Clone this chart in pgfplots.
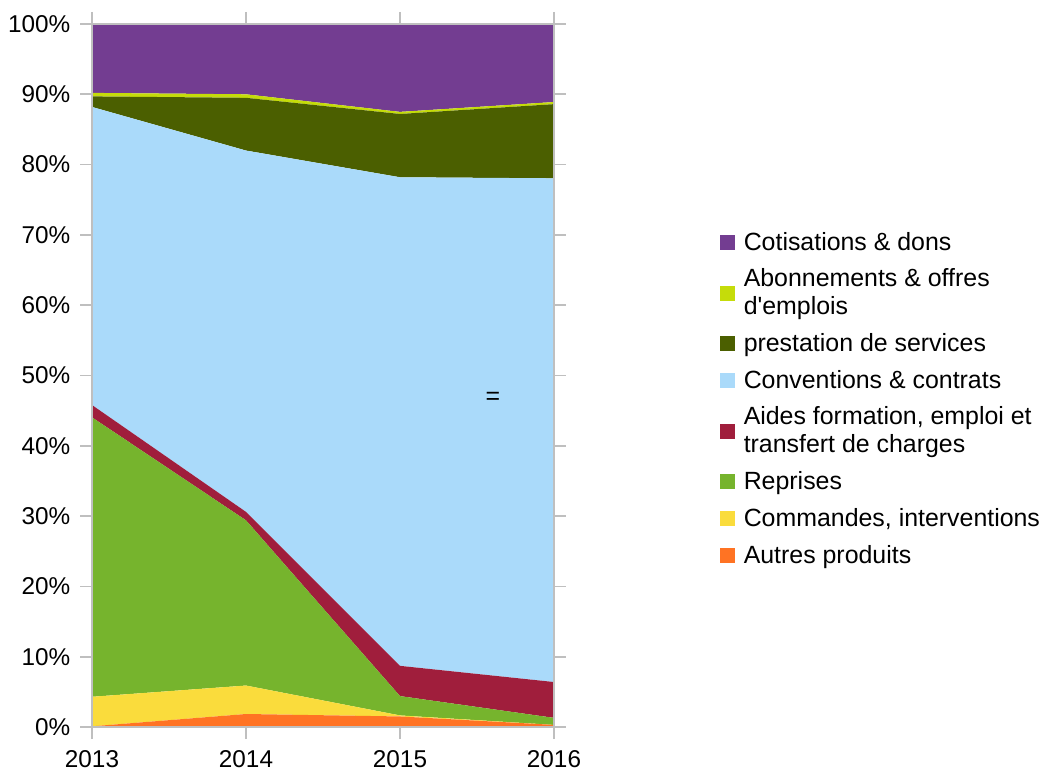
\documentclass[border=0pt]{standalone}
\usepackage{pgfplots}
\pgfplotsset{compat=1.18}
\usepackage{fontspec}
\setmainfont{Liberation Sans}
\definecolor{cPurple}{RGB}{115,61,145}
\definecolor{cLime}{RGB}{197,220,10}
\definecolor{cDkGreen}{RGB}{75,95,0}
\definecolor{cLtBlue}{RGB}{170,218,250}
\definecolor{cRed}{RGB}{160,30,60}
\definecolor{cGreen}{RGB}{118,180,45}
\definecolor{cYellow}{RGB}{250,220,60}
\definecolor{cOrange}{RGB}{255,115,35}
\begin{document}
\fontsize{12.5}{14}\selectfont
\begin{tikzpicture}
\begin{axis}[
  name=ax,
  scale only axis,
  width=231bp, height=351.5bp,
  xmin=2013, xmax=2016, ymin=0, ymax=100,
  stack plots=y,
  area style,
  xtick={2013,2014,2015,2016},
  xticklabels={2013,2014,2015,2016},
  ytick={0,10,...,100},
  yticklabels={0\%,10\%,20\%,30\%,40\%,50\%,60\%,70\%,80\%,90\%,100\%},
  tick align=outside,
  major tick length=6bp,
  tick style={color=black!25, line width=0.8pt},
  axis line style={color=black!25, line width=0.8pt},
  every tick label/.append style={font=\fontsize{12.2}{14}\selectfont},
  xticklabel style={yshift=-1.2pt},
  yticklabel style={xshift=-0.5pt},
  reverse legend,
  legend style={at={(1.345,0.466)}, anchor=west, draw=none, fill=none,
    font=\fontsize{12.5}{14}\selectfont,
    cells={anchor=west, align=left}, row sep=3.5bp},
  legend image code/.code={\fill[#1] (0bp,-3.5bp) rectangle (7.5bp,4bp); \path (10bp,0bp);},
]
\addplot[draw=none, fill=cOrange] coordinates {(2013,0.1) (2014,1.85) (2015,1.5) (2016,0.3)} \closedcycle;
\addlegendentry{Autres produits}
\addplot[draw=none, fill=cYellow] coordinates {(2013,4.2) (2014,4.05) (2015,0.15) (2016,0.0)} \closedcycle;
\addlegendentry{Commandes, interventions}
\addplot[draw=none, fill=cGreen] coordinates {(2013,39.75) (2014,23.5) (2015,2.75) (2016,1.0)} \closedcycle;
\addlegendentry{Reprises}
\addplot[draw=none, fill=cRed] coordinates {(2013,1.75) (2014,1.2) (2015,4.3) (2016,5.1)} \closedcycle;
\addlegendentry{Aides formation, emploi et\\transfert de charges}
\addplot[draw=none, fill=cLtBlue] coordinates {(2013,42.4) (2014,51.4) (2015,69.5) (2016,71.65)} \closedcycle;
\addlegendentry{Conventions \& contrats}
\addplot[draw=none, fill=cDkGreen] coordinates {(2013,1.5) (2014,7.5) (2015,9.0) (2016,10.55)} \closedcycle;
\addlegendentry{prestation de services}
\addplot[draw=none, fill=cLime] coordinates {(2013,0.5) (2014,0.5) (2015,0.3) (2016,0.3)} \closedcycle;
\addlegendentry{Abonnements \& offres\\d\textquotesingle emplois}
\addplot[draw=none, fill=cPurple] coordinates {(2013,9.8) (2014,10.0) (2015,12.5) (2016,11.1)} \closedcycle;
\addlegendentry{Cotisations \& dons}
\end{axis}
\node[text=black, font=\fontsize{12.5}{14}\selectfont] at ([shift={(200.5bp,164.5bp)}]ax.south west) {=};
\pgfresetboundingbox
\path[use as bounding box] ([shift={(-46bp,-22bp)}]ax.south west) rectangle ([shift={(247bp,12bp)}]ax.north east);
\end{tikzpicture}
\end{document}
